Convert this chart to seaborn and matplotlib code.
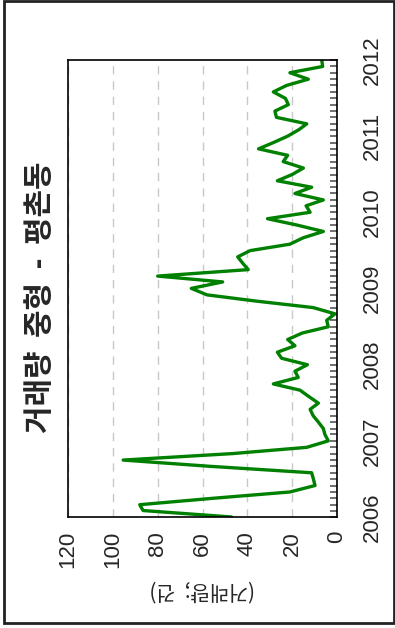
import pandas as pd
import numpy as np
import matplotlib
matplotlib.use("Agg")
import matplotlib.pyplot as plt
import matplotlib.dates as mdates
from matplotlib.patches import Rectangle
import seaborn as sns

# 월별 거래량 (2006-01 ~ 2012-01), 그림에서 읽은 값
months = pd.date_range("2006-01-01", periods=73, freq="MS")
volume = [47, 86.5, 88, 55, 21, 9.8, 10.5, 11.3, 56.7, 95.4,
          46.6, 13.5, 3.9, 5.4, 6.1, 8.3, 10.6, 12, 8.3, 12.5,
          16.5, 28.4, 17.3, 18.75, 13.2, 24.7, 26.6, 18.75, 22, 15.5,
          3.9, 4.6, 0.9, 10.6, 36, 58, 65, 51, 80, 39.6,
          42, 44.3, 38.8, 21, 15, 6.1, 18, 31, 12, 13.8,
          6.1, 18.75, 11.3, 26.6, 20, 15, 24, 22, 35, 28.4,
          22, 17, 13.5, 27, 27.7, 21.7, 23, 28.4, 22.5, 12.8,
          21, 6.4, 6.8]
value_ticks = [0, 20, 40, 60, 80, 100, 120]
title_text = "거래량  중형  -  평촌동"
value_label = "(거래량;  건)"

df = pd.DataFrame({"date": months, "volume": volume})

sns.set_style("white")
plt.rcParams["font.family"] = ["Liberation Sans", "DejaVu Sans"]
kr = ["Noto Sans CJK KR", "DejaVu Sans"]

fig = plt.figure(figsize=(3.95, 6.28), dpi=100)
ax = fig.add_axes([68 / 395, 1 - 517 / 628, (337 - 68) / 395, (517 - 60) / 628])

# 원본 차트가 90도 회전된 형태: 시간축은 세로, 값축은 가로(반전)
sns.lineplot(data=df, x="volume", y="date", orient="y", sort=True,
             color="#008000", lw=2.4, ax=ax)

ax.set_xlim(120, 0)
ax.set_ylim(pd.Timestamp("2006-01-01"), pd.Timestamp("2012-01-01"))
ax.set_xticks(value_ticks)
ax.xaxis.grid(True, color="#c8c8c8", ls=(0, (6, 5)), lw=1)
ax.yaxis.grid(False)

ax.yaxis.tick_right()
ax.yaxis.set_major_locator(mdates.YearLocator())
ax.yaxis.set_minor_locator(mdates.MonthLocator())
ax.yaxis.set_major_formatter(mdates.DateFormatter("%Y"))

ax.tick_params(axis="x", direction="in", length=5, width=1, color="#333333",
               labelsize=16, labelrotation=90, pad=10)
ax.tick_params(axis="y", which="both", direction="in", length=5, width=1.2,
               color="#555555", labelsize=16, labelrotation=90, pad=18)
for lbl in ax.get_yticklabels():
    lbl.set_verticalalignment("center")

for s in ax.spines.values():
    s.set_color("black")
    s.set_linewidth(1.2)

ax.set_ylabel("")
ax.set_xlabel(value_label, family=kr, fontsize=15, rotation=180, labelpad=8)

fig.text(40 / 395, 1 - 297 / 628, title_text, family=kr, fontsize=21.5,
         fontweight="bold", rotation=90, ha="center", va="center")

fig.patches.append(Rectangle((4 / 395, 1 - 623 / 628), 390 / 395, 622 / 628,
                             transform=fig.transFigure, fill=False,
                             edgecolor="#222222", lw=2))

fig.savefig("out.png", dpi=100)
